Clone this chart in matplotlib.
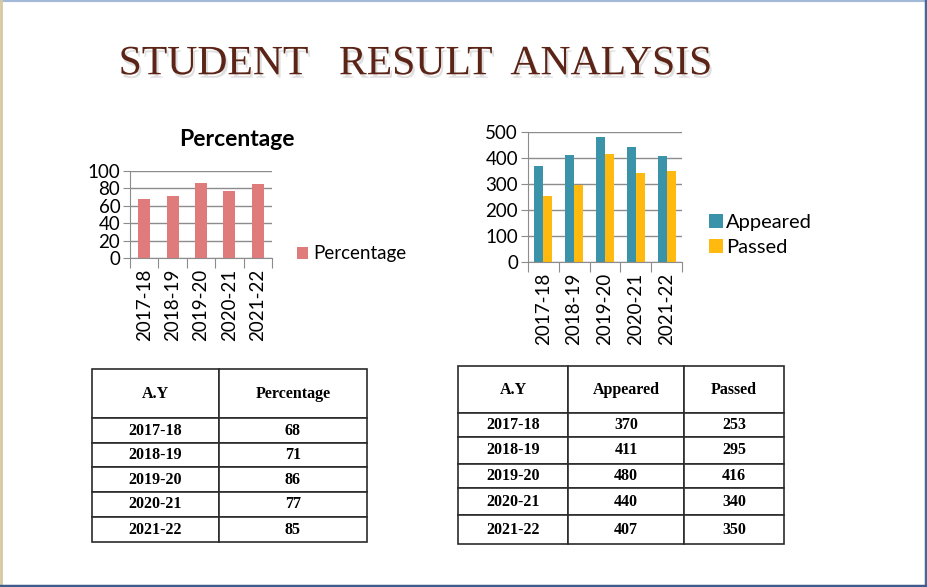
import matplotlib.pyplot as plt
import matplotlib.patheffects as pe
from matplotlib.lines import Line2D
import numpy as np

# data
years = ['2017-18', '2018-19', '2019-20', '2020-21', '2021-22']
percentage = [68, 71, 86, 77, 85]
appeared = [370, 411, 480, 440, 407]
passed = [253, 295, 416, 340, 350]

# colours
pct_color = '#E07B7B'
app_color = '#3A93A8'
pas_color = '#FFB90F'
grid_color = '#8C8C8C'

W, H = 928, 587
plt.rcParams['font.family'] = ['Lato', 'DejaVu Sans']

fig = plt.figure(figsize=(W / 100, H / 100), dpi=100)
fig.patch.set_facecolor('white')


def box(x0, y0, x1, y1):
    # pixel box (top-left origin) -> figure fraction rect
    return [x0 / W, 1 - y1 / H, (x1 - x0) / W, (y1 - y0) / H]


def style_axes(ax, ymax, ystep, fs):
    x = np.arange(len(years))
    ax.set_xlim(-0.5, len(years) - 0.5)
    ax.set_ylim(0, ymax)
    ax.set_yticks(np.arange(0, ymax + 1, ystep))
    ax.set_xticks(np.arange(len(years) + 1) - 0.5)
    ax.set_xticklabels([])
    ax.set_xticks(x, minor=True)
    ax.set_xticklabels(years, minor=True, rotation=90, fontsize=fs)
    ax.tick_params(axis='x', which='minor', length=0, pad=8)
    ax.tick_params(axis='x', which='major', length=7, color=grid_color)
    ax.tick_params(axis='y', length=5, color=grid_color, labelsize=fs, pad=2)
    for s in ['top', 'right']:
        ax.spines[s].set_visible(False)
    for s in ['left', 'bottom']:
        ax.spines[s].set_color(grid_color)
    ax.yaxis.grid(True, color=grid_color, lw=1)
    ax.set_axisbelow(True)


# title
fig.text(415 / W, 1 - 64 / H, 'STUDENT   RESULT  ANALYSIS', family='Liberation Serif',
         fontsize=30, color='#5C2416', ha='center', va='center',
         path_effects=[pe.SimplePatchShadow(offset=(1.5, -2.5), shadow_rgbFace='#999999', alpha=0.3),
                       pe.Normal()])

# percentage chart
ax1 = fig.add_axes(box(130, 171, 272, 258))
x = np.arange(len(years))
ax1.bar(x, percentage, width=0.42, color=pct_color, label='Percentage')
style_axes(ax1, 100, 20, 13.5)
fig.text(237 / W, 1 - 140 / H, 'Percentage', fontsize=16.5, fontweight='bold',
         ha='center', va='center')
ax1.legend(loc='center left', bbox_to_anchor=(288 / W, 1 - 254 / H),
           bbox_transform=fig.transFigure, frameon=False, fontsize=13.5,
           handlelength=0.55, handleheight=0.55, handletextpad=0.3, borderpad=0)

# appeared / passed chart
ax2 = fig.add_axes(box(527.7, 131.7, 682.3, 261.7))
bw = 0.29
ax2.bar(x - bw / 2, appeared, width=bw, color=app_color, label='Appeared')
ax2.bar(x + bw / 2, passed, width=bw, color=pas_color, label='Passed')
style_axes(ax2, 500, 100, 13.5)
ax2.legend(loc='center left', bbox_to_anchor=(699 / W, 1 - 235 / H),
           bbox_transform=fig.transFigure, frameon=False, fontsize=14.5,
           handlelength=0.7, handleheight=0.7, handletextpad=0.15, borderpad=0,
           labelspacing=0.4)


def draw_table(rect, header, rows, col_w, row_h, fs=11.5):
    ax = fig.add_axes(rect)
    ax.axis('off')
    tb = ax.table(cellText=[header] + rows, colWidths=col_w, cellLoc='center',
                  bbox=[0, 0, 1, 1])
    tb.auto_set_font_size(False)
    for (r, c), cell in tb.get_celld().items():
        cell.set_height(row_h[r])
        cell.set_edgecolor('#2B2B2B')
        cell.set_linewidth(1.2)
        cell.get_text().set_fontfamily('Liberation Serif')
        cell.get_text().set_fontweight('bold')
        cell.get_text().set_fontsize(fs)
    return tb


draw_table(box(92, 369, 367, 542), ['A.Y', 'Percentage'],
           [[y, str(p)] for y, p in zip(years, percentage)],
           [127, 148], [49, 25, 24, 25, 25, 25])

draw_table(box(458, 366, 784, 544), ['A.Y', 'Appeared', 'Passed'],
           [[y, str(a), str(p)] for y, a, p in zip(years, appeared, passed)],
           [110, 116, 100], [47, 24, 27, 24, 27, 29])

# slide border
fig.add_artist(Line2D([0, 1], [1 - 0.5 / H] * 2, color='#A3B9D9', lw=1.5))
fig.add_artist(Line2D([1 / W] * 2, [0, 1], color='#D6C9A0', lw=2))
fig.add_artist(Line2D([1 - 1.5 / W] * 2, [0, 1], color='#46679A', lw=2.5))
fig.add_artist(Line2D([0, 1], [1.5 / H] * 2, color='#3D5C8C', lw=2.5))

fig.savefig('out.png', dpi=100)
